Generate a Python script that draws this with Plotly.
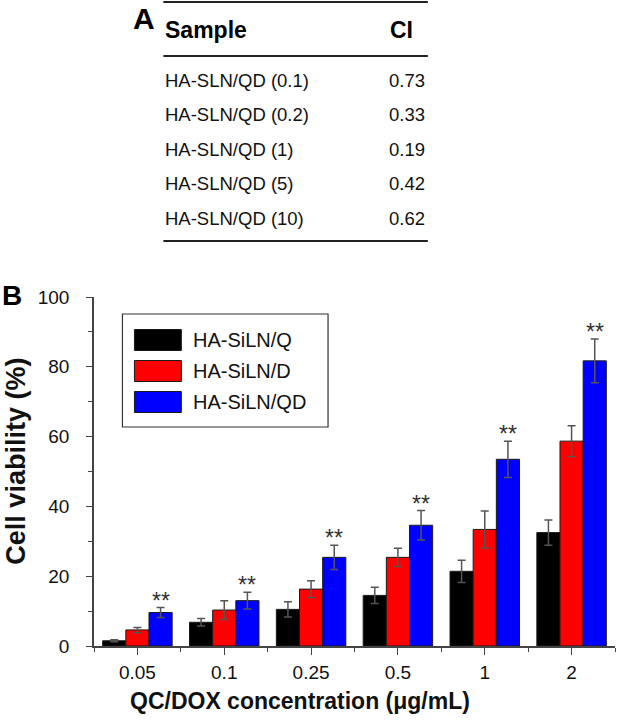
import plotly.graph_objects as go

# ---------------- data ----------------
categories = ["0.05", "0.1", "0.25", "0.5", "1", "2"]
series_names = ["HA-SiLN/Q", "HA-SiLN/D", "HA-SiLN/QD"]
series_colors = ["#000000", "#ff0000", "#0000ff"]
viab_Q = [1.5, 6.8, 10.5, 14.5, 21.4, 32.5]
viab_D = [4.6, 10.3, 16.3, 25.4, 33.4, 58.7]
viab_QD = [9.6, 13.0, 25.4, 34.6, 53.5, 81.7]
err_Q = [0.3, 1.1, 2.2, 2.3, 3.2, 3.6]
err_D = [0.7, 2.7, 2.4, 2.6, 5.3, 4.4]
err_QD = [1.4, 2.4, 3.5, 4.2, 5.2, 6.3]
sig_marks = ["**", "**", "**", "**", "**", "**"]

table_header = ["Sample", "CI"]
table_samples = ["HA-SLN/QD (0.1)", "HA-SLN/QD (0.2)", "HA-SLN/QD (1)", "HA-SLN/QD (5)", "HA-SLN/QD (10)"]
table_ci = ["0.73", "0.33", "0.19", "0.42", "0.62"]

y_ticks = [0, 20, 40, 60, 80, 100]
x_title = "QC/DOX concentration (μg/mL)"
y_title = "Cell viability (%)"

# ---------------- figure ----------------
W, H = 617, 728
L, R, T, B = 93.5, 1.5, 297, 82
FONT = "Arial, 'Liberation Sans', Helvetica, sans-serif"


def px_x(x):
    return (x - L) / (W - L - R)


def px_y(y):
    return (H - B - y) / (H - B - T)


xpos = list(range(len(categories)))
vals = [viab_Q, viab_D, viab_QD]
errs = [err_Q, err_D, err_QD]

fig = go.Figure()
for name, col, v, e in zip(series_names, series_colors, vals, errs):
    fig.add_trace(go.Bar(
        x=xpos, y=v, name=name,
        marker=dict(color=col, line=dict(color="#1a1a1a", width=1)),
        error_y=dict(type="data", array=e, color="#555555", thickness=1.5, width=4),
        showlegend=False,
    ))

annotations = []
shapes = []

# significance marks above the QD bars
bar_w = 0.8 / 3
for i, m in enumerate(sig_marks):
    annotations.append(dict(
        x=xpos[i] + bar_w, y=viab_QD[i] + err_QD[i], xref="x", yref="y",
        text=m, showarrow=False, yanchor="bottom", yshift=-8,
        font=dict(family=FONT, size=23, color="#333333"),
    ))

# custom legend
shapes.append(dict(type="rect", xref="paper", yref="paper",
                   x0=px_x(122), x1=px_x(328), y0=px_y(427), y1=px_y(314),
                   line=dict(color="#333333", width=1.2), fillcolor="white"))
for k, (name, col) in enumerate(zip(series_names, series_colors)):
    yc = 340 + 31 * k
    shapes.append(dict(type="rect", xref="paper", yref="paper",
                       x0=px_x(134), x1=px_x(181), y0=px_y(yc + 10.5), y1=px_y(yc - 10.5),
                       line=dict(color="#1a1a1a", width=1), fillcolor=col))
    annotations.append(dict(x=px_x(191), y=px_y(yc), xref="paper", yref="paper",
                            text=name, showarrow=False, xanchor="left", yanchor="middle",
                            font=dict(family=FONT, size=20, color="#111111")))

# axis titles
annotations.append(dict(x=px_x(300), y=px_y(701), xref="paper", yref="paper",
                        text="<b>" + x_title + "</b>", showarrow=False,
                        xanchor="center", yanchor="middle",
                        font=dict(family=FONT, size=23, color="#111111")))
annotations.append(dict(x=px_x(15), y=px_y(461), xref="paper", yref="paper",
                        text="<b>" + y_title + "</b>", showarrow=False, textangle=-90,
                        xanchor="center", yanchor="middle",
                        font=dict(family=FONT, size=27, color="#111111")))

# panel labels
annotations.append(dict(x=px_x(144), y=px_y(18), xref="paper", yref="paper",
                        text="<b>A</b>", showarrow=False, xanchor="center", yanchor="middle",
                        font=dict(family=FONT, size=30, color="#000000")))
annotations.append(dict(x=px_x(11), y=px_y(295), xref="paper", yref="paper",
                        text="<b>B</b>", showarrow=False, xanchor="center", yanchor="middle",
                        font=dict(family=FONT, size=28, color="#000000")))

# table
tx0, tx1 = 163, 428
for yl in [2, 56, 241]:
    shapes.append(dict(type="line", xref="paper", yref="paper",
                       x0=px_x(tx0), x1=px_x(tx1), y0=px_y(yl), y1=px_y(yl),
                       line=dict(color="#222222", width=2)))
annotations.append(dict(x=px_x(tx0), y=px_y(30), xref="paper", yref="paper",
                        text="<b>" + table_header[0] + "</b>", showarrow=False,
                        xanchor="left", yanchor="middle",
                        font=dict(family=FONT, size=23, color="#000000")))
annotations.append(dict(x=px_x(415), y=px_y(30), xref="paper", yref="paper",
                        text="<b>" + table_header[1] + "</b>", showarrow=False,
                        xanchor="right", yanchor="middle",
                        font=dict(family=FONT, size=23, color="#000000")))
row_y = [81, 115, 150, 183, 218]
for s, c, yy in zip(table_samples, table_ci, row_y):
    annotations.append(dict(x=px_x(tx0), y=px_y(yy), xref="paper", yref="paper",
                            text=s, showarrow=False, xanchor="left", yanchor="middle",
                            font=dict(family=FONT, size=18.5, color="#111111")))
    annotations.append(dict(x=px_x(427), y=px_y(yy), xref="paper", yref="paper",
                            text=c, showarrow=False, xanchor="right", yanchor="middle",
                            font=dict(family=FONT, size=18.5, color="#111111")))

fig.update_layout(
    width=W, height=H,
    margin=dict(l=L, r=R, t=T, b=B, pad=0),
    paper_bgcolor="white", plot_bgcolor="white",
    barmode="group", bargap=0.2, bargroupgap=0,
    font=dict(family=FONT, color="#111111"),
    annotations=annotations, shapes=shapes,
    showlegend=False,
)
fig.update_xaxes(
    range=[-0.5, 5.5], tickmode="array", tickvals=xpos, ticktext=categories,
    ticks="outside", ticklen=7, tickwidth=1.2, tickcolor="#444444",
    minor=dict(tickmode="array", tickvals=[i - 0.5 for i in range(len(categories) + 1)],
               ticks="outside", ticklen=4, tickcolor="#444444", tickwidth=1.2),
    showline=True, linecolor="#444444", linewidth=1.5,
    showgrid=False, zeroline=False,
    tickfont=dict(family=FONT, size=19, color="#111111"),
    ticklabelstandoff=1,
)
fig.update_yaxes(
    range=[0, 100], tickmode="array", tickvals=y_ticks,
    ticks="outside", ticklen=6, tickwidth=1.2, tickcolor="#444444",
    minor=dict(dtick=10, ticks="outside", ticklen=4, tickcolor="#444444", tickwidth=1.2),
    showline=True, linecolor="#444444", linewidth=1.5,
    showgrid=False, zeroline=False,
    tickfont=dict(family=FONT, size=19, color="#111111"),
    ticklabelstandoff=13,
)

fig.write_html(
    "out.html",
    config={"displayModeBar": False},
    post_script="document.body.style.margin='0';document.body.style.overflow='hidden';",
)
